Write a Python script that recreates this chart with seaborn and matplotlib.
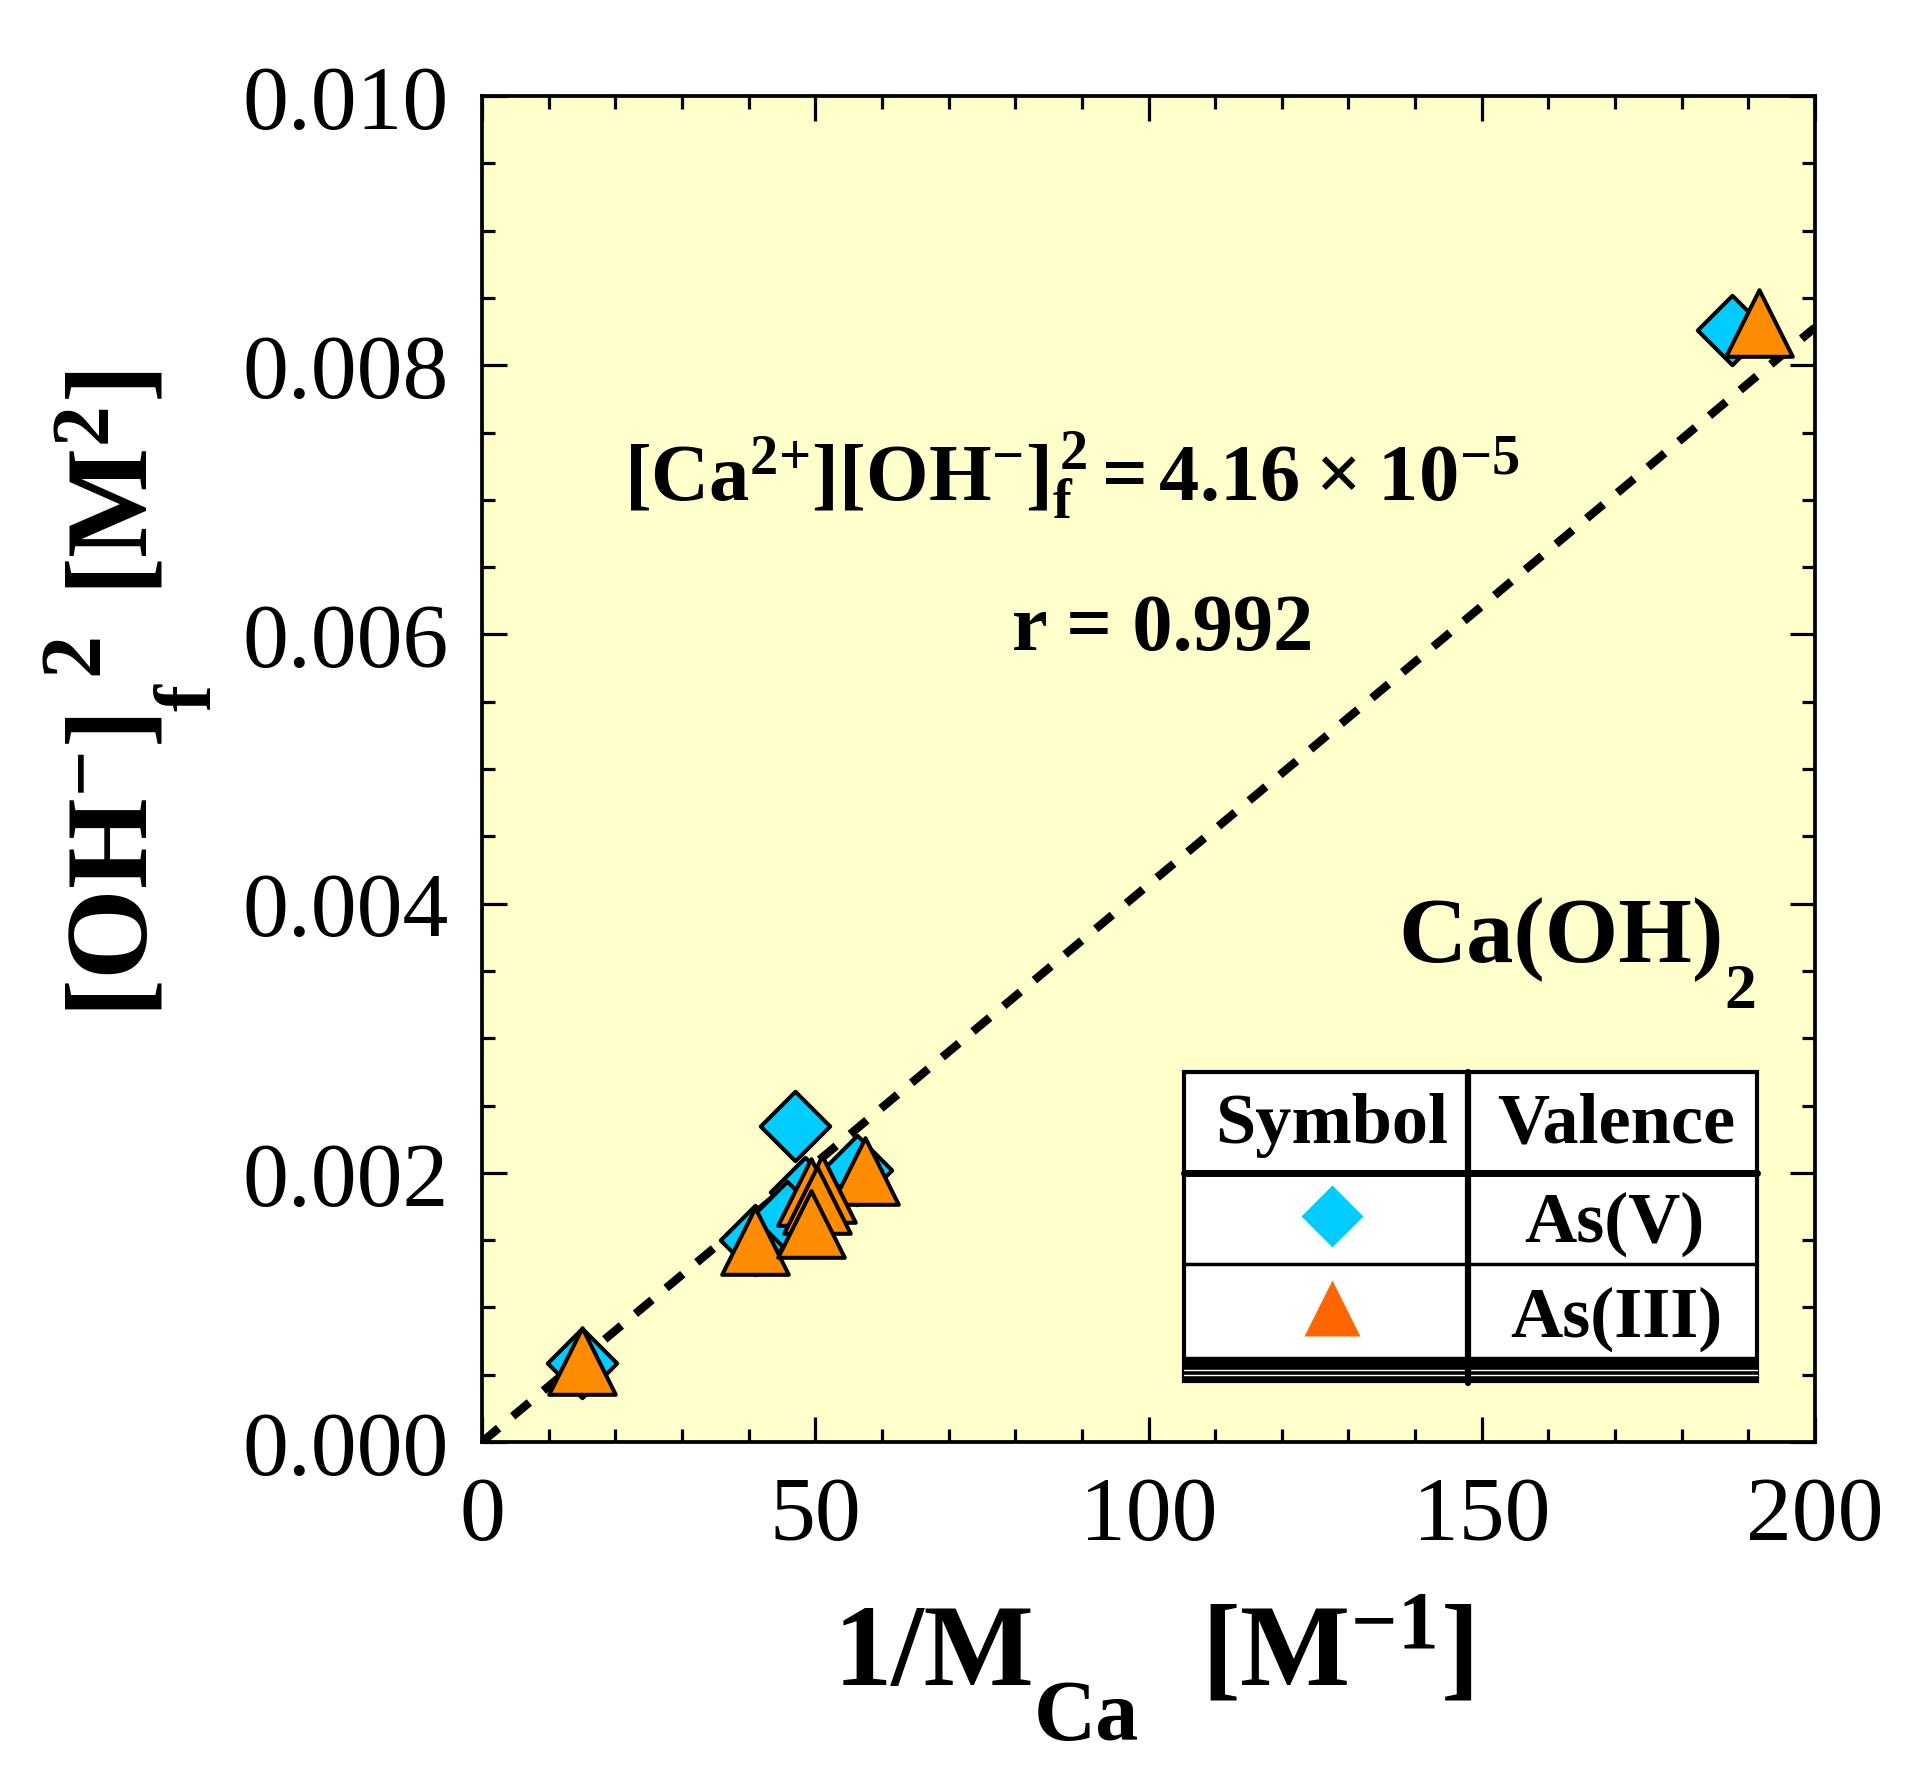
import matplotlib
matplotlib.use("Agg")
import matplotlib.pyplot as plt
import seaborn as sns
from matplotlib.patches import Rectangle
from matplotlib.lines import Line2D
from matplotlib.ticker import MultipleLocator, FormatStrFormatter

# ---------------- data ----------------
as5_x = [15.0, 46.9, 56.2, 41.0, 48.5, 45.7, 187.5]
as5_y = [0.00059, 0.00235, 0.00202, 0.00150, 0.00186, 0.00168, 0.00826]
as3_x = [15.0, 40.9, 57.5, 51.0, 49.3, 50.2, 49.3, 191.6]
as3_y = [0.00060, 0.00149, 0.00201, 0.00188, 0.00186, 0.00180, 0.00162, 0.00831]
fit_x = [0.0, 200.0]
fit_y = [0.0, 0.00828]
x_ticks = [0, 50, 100, 150, 200]
y_ticks = [0.000, 0.002, 0.004, 0.006, 0.008, 0.010]
legend_headers = ["Symbol", "Valence"]
legend_labels = ["As(V)", "As(III)"]

# ---------------- style ----------------
sns.set_style("ticks")
plt.rcParams['font.family'] = ['Liberation Serif', 'DejaVu Serif']
plt.rcParams['mathtext.fontset'] = 'custom'
plt.rcParams['mathtext.rm'] = 'Liberation Serif'
plt.rcParams['mathtext.bf'] = 'Liberation Serif:bold'
plt.rcParams['mathtext.it'] = 'Liberation Serif:italic'
for k in ['text.color', 'axes.labelcolor', 'xtick.color', 'ytick.color', 'axes.edgecolor']:
    plt.rcParams[k] = 'black'

W, H = 1905, 1774
fig = plt.figure(figsize=(W / 100, H / 100), dpi=100)
AX_L, AX_R, AX_T, AX_B = 482, 1815, 97, 1443
ax = fig.add_axes([AX_L / W, 1 - AX_B / H, (AX_R - AX_L) / W, (AX_B - AX_T) / H])
ax.set_facecolor('#FFFFCC')


def axx(X):
    return (X - AX_L) / (AX_R - AX_L)


def axy(Y):
    return (AX_B - Y) / (AX_B - AX_T)


def fx(X):
    return X / W


def fy(Y):
    return 1 - Y / H


# fit line
sns.lineplot(x=fit_x, y=fit_y, ax=ax, color='black', linewidth=6,
             linestyle=(0, (2.6, 2.2)), zorder=2, legend=False)

# data points
sns.scatterplot(x=as5_x, y=as5_y, ax=ax, marker='D', s=1250, color='#00CCFF',
                edgecolor='black', linewidth=2.9, zorder=3, legend=False)
sns.scatterplot(x=as3_x, y=as3_y, ax=ax, marker='^', s=2300, color='#FF8C00',
                edgecolor='black', linewidth=2.9, zorder=4, legend=False)

ax.set_xlim(0, 200)
ax.set_ylim(0, 0.010)
ax.set_xticks(x_ticks)
ax.set_yticks(y_ticks)
ax.xaxis.set_minor_locator(MultipleLocator(10))
ax.yaxis.set_minor_locator(MultipleLocator(0.0005))
ax.yaxis.set_major_formatter(FormatStrFormatter('%.3f'))
ax.tick_params(which='both', direction='in', top=True, right=True,
               width=2.3, color='black', labelcolor='black')
ax.tick_params(which='major', length=18, labelsize=66, pad=24)
ax.tick_params(which='minor', length=9.5)
for sp in ax.spines.values():
    sp.set_linewidth(2.7)
    sp.set_color('black')
ax.set_xlabel("")
ax.set_ylabel("")

# ---- x axis label: 1/M_Ca [M^-1]
fig.text(fx(834), fy(1685), "1/M", fontsize=84, fontweight='bold',
         ha='left', va='baseline')
fig.text(fx(1034), fy(1740), "Ca", fontsize=62, fontweight='bold',
         ha='left', va='baseline')
fig.text(fx(1201), fy(1685), r"$\mathbf{[M^{-1}]}$", fontsize=84,
         ha='left', va='baseline')

# ---- y axis label: [OH-]_f ^2 [M^2]  (rotated)
rot = dict(rotation=90, rotation_mode='anchor', ha='left', va='baseline')
fig.text(fx(147), fy(1018), r"$\mathbf{[OH^{-}]}$", fontsize=84, **rot)
fig.text(fx(210), fy(711), "f", fontsize=58, fontweight='bold', **rot)
fig.text(fx(97), fy(675), "2", fontsize=62, fontweight='bold', **rot)
fig.text(fx(147), fy(596), r"$\mathbf{[M^{2}]}$", fontsize=84, **rot)

# annotations
ax.text(21.3, 0.00700,
        r"$\mathbf{[Ca^{2{+}}][OH^{-}]_{f}^{\,2}=4.16\;×\;10^{-5}}$",
        fontsize=58, ha='left', va='baseline', zorder=6)
ax.text(79.5, 0.00589, "r = 0.992", fontsize=58, fontweight='bold',
        ha='left', va='baseline', zorder=6)
ax.text(137.5, 0.00357, "Ca(OH)", fontsize=68, fontweight='bold',
        ha='left', va='baseline', zorder=6)
ax.text(186.4, 0.00323, "2", fontsize=46, fontweight='bold',
        ha='left', va='baseline', zorder=6)

# table-style legend
TL, TR, TT, TB = 1184, 1757, 1073, 1382
ax.add_patch(Rectangle((axx(TL), axy(TB)), axx(TR) - axx(TL), axy(TT) - axy(TB),
                       transform=ax.transAxes, facecolor='white', edgecolor='black',
                       linewidth=3, zorder=7, clip_on=False))


def hline(Y, lw, color='black'):
    ax.add_line(Line2D([axx(TL), axx(TR)], [axy(Y), axy(Y)], transform=ax.transAxes,
                       color=color, linewidth=lw, zorder=8, clip_on=False))


hline(1174, 5)
hline(1265, 2.5)
ax.add_patch(Rectangle((axx(TL), axy(TB)), axx(TR) - axx(TL), axy(1358) - axy(TB),
                       transform=ax.transAxes, facecolor='black', edgecolor='black',
                       linewidth=1, zorder=8, clip_on=False))
hline(1371, 1.0, 'white')
hline(1376, 1.0, 'white')
ax.add_line(Line2D([axx(1468), axx(1468)], [axy(1384), axy(TT)], transform=ax.transAxes,
                   color='black', linewidth=4.5, zorder=9, clip_on=False))

ax.plot([axx(1332)], [axy(1217)], marker='D', markersize=31.5, color='#00CCFF',
        markeredgecolor='none', transform=ax.transAxes, zorder=9, clip_on=False)
ax.plot([axx(1332)], [axy(1309)], marker='^', markersize=40, color='#FF6600',
        markeredgecolor='none', transform=ax.transAxes, zorder=9, clip_on=False)

ax.text(axx(1332), axy(1143), legend_headers[0], transform=ax.transAxes, fontsize=52,
        fontweight='bold', ha='center', va='baseline', zorder=10)
ax.text(axx(1616), axy(1143), legend_headers[1], transform=ax.transAxes, fontsize=52,
        fontweight='bold', ha='center', va='baseline', zorder=10)
ax.text(axx(1614), axy(1242), legend_labels[0], transform=ax.transAxes, fontsize=52,
        fontweight='bold', ha='center', va='baseline', zorder=10)
ax.text(axx(1616), axy(1337), legend_labels[1], transform=ax.transAxes, fontsize=52,
        fontweight='bold', ha='center', va='baseline', zorder=10)

fig.savefig("out.png", dpi=100, facecolor='white')
